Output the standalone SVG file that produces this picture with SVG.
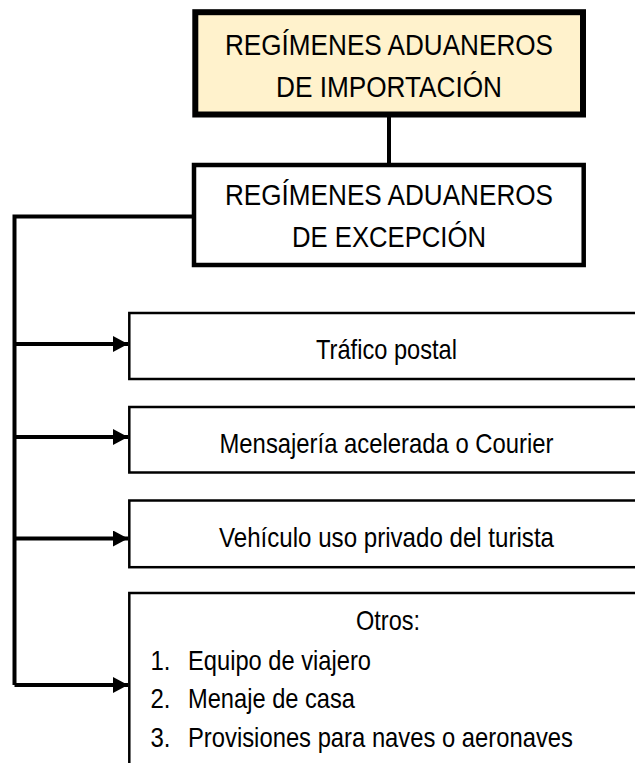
<svg xmlns="http://www.w3.org/2000/svg" width="635" height="763" viewBox="0 0 635 763">
<style>
.t{font-family:"Liberation Sans",Arial,sans-serif;fill:#000}
.title{font-size:30px;text-anchor:middle}
.body{font-size:28px}
.c{text-anchor:middle}
.box{fill:#fff;stroke:#000;stroke-width:2.5}
.wire{fill:none;stroke:#000;stroke-width:4}
</style>
<defs>
<marker id="ah" markerUnits="userSpaceOnUse" markerWidth="16" markerHeight="16" refX="15" refY="8" orient="auto">
<path d="M0,0 L15,8 L0,16 Z" fill="#000"/>
</marker>
</defs>
<rect width="635" height="763" fill="#fff"/>
<g id="connectors">
<line class="wire" x1="389" y1="114" x2="389" y2="165" stroke-width="4.5"/>
<polyline class="wire" points="194,216.5 14.5,216.5 14.5,685"/>
<line class="wire" x1="14.5" y1="344" x2="128" y2="344" marker-end="url(#ah)"/>
<line class="wire" x1="14.5" y1="437" x2="128" y2="437" marker-end="url(#ah)"/>
<line class="wire" x1="14.5" y1="538.5" x2="128" y2="538.5" marker-end="url(#ah)"/>
<line class="wire" x1="14.5" y1="685" x2="128" y2="685" marker-end="url(#ah)"/>
</g>
<g id="importacion">
<rect x="195.3" y="12.2" width="387.7" height="102.3" fill="#FFF2CC" stroke="#000" stroke-width="6"/>
<text class="t title" x="389" y="55" textLength="328" lengthAdjust="spacingAndGlyphs">REGÍMENES ADUANEROS</text>
<text class="t title" x="389" y="96.7" textLength="226" lengthAdjust="spacingAndGlyphs">DE IMPORTACIÓN</text>
</g>
<g id="excepcion">
<rect x="194" y="165" width="389.7" height="100" fill="#fff" stroke="#000" stroke-width="4.5"/>
<text class="t title" x="389" y="205" textLength="328" lengthAdjust="spacingAndGlyphs">REGÍMENES ADUANEROS</text>
<text class="t title" x="389" y="246.7" textLength="194" lengthAdjust="spacingAndGlyphs">DE EXCEPCIÓN</text>
</g>
<g id="trafico">
<rect class="box" x="129.3" y="313" width="520" height="66"/>
<text class="t body c" x="386.5" y="359.3" textLength="141" lengthAdjust="spacingAndGlyphs">Tráfico postal</text>
</g>
<g id="mensajeria">
<rect class="box" x="129.3" y="407" width="520" height="65.5"/>
<text class="t body c" x="386.5" y="452.7" textLength="334" lengthAdjust="spacingAndGlyphs">Mensajería acelerada o Courier</text>
</g>
<g id="vehiculo">
<rect class="box" x="129.3" y="500.5" width="520" height="66.7"/>
<text class="t body c" x="386.5" y="546.5" textLength="335" lengthAdjust="spacingAndGlyphs">Vehículo uso privado del turista</text>
</g>
<g id="otros">
<rect class="box" x="129.3" y="593" width="520" height="200"/>
<text class="t body c" x="388" y="630" textLength="64" lengthAdjust="spacingAndGlyphs">Otros:</text>
<text class="t body" x="150.5" y="670" textLength="20" lengthAdjust="spacingAndGlyphs">1.</text>
<text class="t body" x="188" y="670" textLength="183" lengthAdjust="spacingAndGlyphs">Equipo de viajero</text>
<text class="t body" x="150.5" y="708.3" textLength="20" lengthAdjust="spacingAndGlyphs">2.</text>
<text class="t body" x="188" y="708.3" textLength="167" lengthAdjust="spacingAndGlyphs">Menaje de casa</text>
<text class="t body" x="150.5" y="746.7" textLength="20" lengthAdjust="spacingAndGlyphs">3.</text>
<text class="t body" x="188" y="746.7" textLength="385" lengthAdjust="spacingAndGlyphs">Provisiones para naves o aeronaves</text>
</g>
</svg>
